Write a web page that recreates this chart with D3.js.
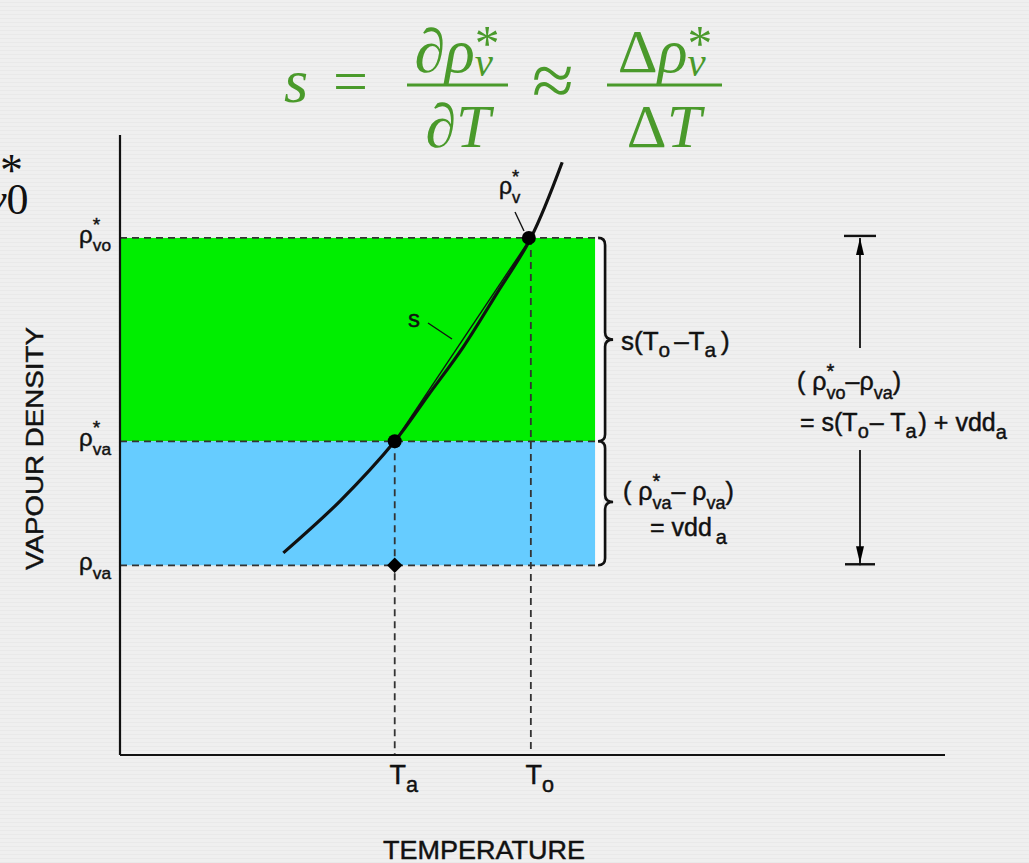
<!DOCTYPE html>
<html>
<head>
<meta charset="utf-8">
<script src="https://cdn.jsdelivr.net/npm/d3@7"></script>
<style>
  body { margin: 0; background: #efefef; }
  svg { display: block; }
  text { font-family: "Liberation Sans", Arial, sans-serif; fill: #111; }
  .ink text, text.ink { stroke: #111; stroke-width: 0.45px; }
</style>
</head>
<body>
<svg id="chart" width="1029" height="863"></svg>
<script>
// values in arbitrary data units (temperature 0-100, vapour density 0-100)
const Ta = 33.3, To = 49.8;
const rhoVa = 30.6, rhoVaSat = 50.6, rhoVoSat = 83.4;
const satCurve = [[19.8, 32.6], [26.7, 41.0], [33.3, 50.6], [37.4, 58.1], [41.6, 65.8], [45.7, 74.5], [49.8, 83.4], [53.6, 95.6]];
const tempTicks = [{ name: 'T', sub: 'a', value: Ta }, { name: 'T', sub: 'o', value: To }];
const densTicks = [
  { sup: '*', sub: 'vo', value: rhoVoSat },
  { sup: '*', sub: 'va', value: rhoVaSat },
  { sup: '', sub: 'va', value: rhoVa }
];
const fillEnd = 57.6, braceAt = 58.8;

const svg = d3.select('#chart');
const x = d3.scaleLinear().domain([0, 100]).range([120, 945]);
const y = d3.scaleLinear().domain([0, 100]).range([755, 135]);

// faint scan lines like the reference photo
const pat = svg.append('defs').append('pattern').attr('id', 'scan')
  .attr('width', 4).attr('height', 4).attr('patternUnits', 'userSpaceOnUse');
pat.append('rect').attr('width', 4).attr('height', 4).attr('fill', '#efefef');
pat.append('rect').attr('y', 2).attr('width', 4).attr('height', 1).attr('fill', '#e9e9e9');
svg.append('rect').attr('width', 1029).attr('height', 863).attr('fill', 'url(#scan)');

// text with stacked super/subscripts, measured piece by piece
function rich(parent, px, py, parts, size, anchor, extra) {
  const g = parent.append('g').attr('class', extra ? null : 'ink');
  let cx = 0, supStart = null;
  parts.forEach(p => {
    const kind = p.kind || 'base';
    const fs = kind === 'base' ? (p.size || size) : size * (p.scale || 0.72);
    const dy = kind === 'sub' ? size * (p.drop || 0.3) : kind === 'sup' ? -size * (p.rise || 0.42) : (p.dy || 0);
    let at = cx;
    if (kind === 'sub' && supStart !== null) at = supStart;
    const t = g.append('text').attr('x', at + (p.dx || 0)).attr('y', dy)
      .attr('font-size', fs).text(p.text);
    if (extra) extra(t, p);
    const w = t.node().getComputedTextLength() + (p.dx || 0);
    if (kind === 'sup') { supStart = cx; cx = cx + w; }
    else if (kind === 'sub' && supStart !== null) { cx = Math.max(cx, at + w); supStart = null; }
    else { cx = at + w; supStart = null; }
  });
  const shift = anchor === 'middle' ? -cx / 2 : anchor === 'end' ? -cx : 0;
  g.attr('transform', `translate(${px + shift},${py})`);
  return g;
}

// coloured bands
svg.append('rect').attr('x', x(0)).attr('y', y(rhoVoSat))
  .attr('width', x(fillEnd) - x(0)).attr('height', y(rhoVaSat) - y(rhoVoSat)).attr('fill', '#00ee00');
svg.append('rect').attr('x', x(0)).attr('y', y(rhoVaSat))
  .attr('width', x(fillEnd) - x(0)).attr('height', y(rhoVa) - y(rhoVaSat)).attr('fill', '#66ccff');
svg.append('rect').attr('x', x(fillEnd)).attr('y', y(rhoVoSat))
  .attr('width', x(braceAt) - x(fillEnd) - 2).attr('height', y(rhoVa) - y(rhoVoSat)).attr('fill', '#fbfbfb');

// dashed guides
const dash = svg.append('g').attr('stroke', '#333').attr('stroke-width', 1.8)
  .attr('stroke-dasharray', '7,5').attr('fill', 'none');
[rhoVoSat, rhoVaSat, rhoVa].forEach(v => {
  dash.append('line').attr('x1', x(0)).attr('x2', x(braceAt) - 6).attr('y1', y(v)).attr('y2', y(v));
});
dash.append('line').attr('x1', x(Ta)).attr('x2', x(Ta)).attr('y1', y(rhoVaSat)).attr('y2', y(0));
dash.append('line').attr('x1', x(To)).attr('x2', x(To)).attr('y1', y(rhoVoSat)).attr('y2', y(0));

// axes
svg.append('line').attr('x1', x(0)).attr('x2', x(0)).attr('y1', y(100)).attr('y2', y(0))
  .attr('stroke', '#111').attr('stroke-width', 2.2);
svg.append('line').attr('x1', x(0)).attr('x2', x(100)).attr('y1', y(0)).attr('y2', y(0))
  .attr('stroke', '#111').attr('stroke-width', 2.2);

// saturation curve and chord
const line = d3.line().x(d => x(d[0])).y(d => y(d[1])).curve(d3.curveCatmullRom);
svg.append('path').datum(satCurve).attr('d', line)
  .attr('fill', 'none').attr('stroke', '#111').attr('stroke-width', 3.2);
svg.append('line').attr('x1', x(Ta)).attr('y1', y(rhoVaSat)).attr('x2', x(To)).attr('y2', y(rhoVoSat))
  .attr('stroke', '#111').attr('stroke-width', 1.4);

// points
svg.append('circle').attr('cx', x(Ta)).attr('cy', y(rhoVaSat)).attr('r', 7).attr('fill', '#000');
svg.append('circle').attr('cx', x(To) - 2).attr('cy', y(rhoVoSat)).attr('r', 7).attr('fill', '#000');
svg.append('path').attr('d', d3.symbol(d3.symbolDiamond2, 150)())
  .attr('transform', `translate(${x(Ta)},${y(rhoVa)})`).attr('fill', '#000');

// curve labels with leaders
rich(svg, 499, 194, [{ text: 'ρ' }, { text: '*', kind: 'sup', scale: 0.8, rise: 0.5 }, { text: 'v', kind: 'sub', drop: 0.38 }], 23, 'start');
svg.append('line').attr('x1', 515).attr('y1', 212).attr('x2', 524).attr('y2', 231)
  .attr('stroke', '#111').attr('stroke-width', 1.4);
svg.append('text').attr('class', 'ink').attr('x', 408).attr('y', 327).attr('font-size', 24).text('s');
svg.append('line').attr('x1', 428).attr('y1', 323).attr('x2', 452).attr('y2', 339)
  .attr('stroke', '#111').attr('stroke-width', 1.4);

// y tick labels
densTicks.forEach(d => {
  const parts = [{ text: 'ρ' }];
  if (d.sup) parts.push({ text: d.sup, kind: 'sup', scale: 0.8, rise: 0.5 });
  parts.push({ text: d.sub, kind: 'sub', drop: 0.35 });
  rich(svg, 111, y(d.value) + 5, parts, 24, 'end');
});
svg.append('text').attr('class', 'ink').attr('transform', `translate(43,${(327 + 570) / 2}) rotate(-90)`)
  .attr('text-anchor', 'middle').attr('font-size', 24).attr('textLength', 243)
  .attr('lengthAdjust', 'spacingAndGlyphs').text('VAPOUR DENSITY');

// x tick labels
tempTicks.forEach(d => {
  rich(svg, x(d.value) + 9, 784, [{ text: d.name }, { text: d.sub, kind: 'sub', drop: 0.28, scale: 0.8 }], 27, 'middle');
});
svg.append('text').attr('class', 'ink').attr('x', 484).attr('y', 859).attr('text-anchor', 'middle')
  .attr('font-size', 26).attr('textLength', 202).attr('lengthAdjust', 'spacingAndGlyphs').text('TEMPERATURE');

// curly braces
function brace(x0, y1, y2, ym) {
  const w = 8, r = 7;
  return `M${x0 - r},${y1} Q${x0},${y1} ${x0},${y1 + r} L${x0},${ym - r} Q${x0},${ym} ${x0 + w},${ym}` +
    ` Q${x0},${ym} ${x0},${ym + r} L${x0},${y2 - r} Q${x0},${y2} ${x0 - r},${y2}`;
}
const bx = x(braceAt);
svg.append('path').attr('d', brace(bx, y(rhoVoSat), y(rhoVaSat), (y(rhoVoSat) + y(rhoVaSat)) / 2))
  .attr('fill', 'none').attr('stroke', '#111').attr('stroke-width', 2.6);
svg.append('path').attr('d', brace(bx, y(rhoVaSat), y(rhoVa), 502))
  .attr('fill', 'none').attr('stroke', '#111').attr('stroke-width', 2.6);

const LS = 25;
rich(svg, 621, 350, [{ text: 's(T' }, { text: 'o', kind: 'sub', drop: 0.28, scale: 0.8 },
  { text: '–T', dx: 4 }, { text: 'a', kind: 'sub', drop: 0.28, scale: 0.8 }, { text: ')', dx: 5 }], 26, 'start');
rich(svg, 623, 500, [{ text: '( ρ' }, { text: '*', kind: 'sup', scale: 0.8, rise: 0.5 }, { text: 'va', kind: 'sub', drop: 0.35 },
  { text: ' – ρ' }, { text: 'va', kind: 'sub', drop: 0.35 }, { text: ' )' }], LS, 'start');
rich(svg, 650, 536, [{ text: '= vdd' }, { text: 'a', kind: 'sub', drop: 0.3, scale: 0.8, dx: 4 }], LS, 'start');

// total difference arrow
const ax = 860;
const arr = svg.append('g').attr('stroke', '#111').attr('stroke-width', 1.8);
arr.append('line').attr('x1', ax - 16).attr('x2', ax + 16).attr('y1', y(rhoVoSat) - 2).attr('y2', y(rhoVoSat) - 2).attr('stroke-width', 2.4);
arr.append('line').attr('x1', ax).attr('x2', ax).attr('y1', y(rhoVoSat)).attr('y2', 348);
arr.append('line').attr('x1', ax - 15).attr('x2', ax + 15).attr('y1', y(rhoVa) - 1).attr('y2', y(rhoVa) - 1).attr('stroke-width', 2.4);
arr.append('line').attr('x1', ax).attr('x2', ax).attr('y1', 450).attr('y2', y(rhoVa));
svg.append('path').attr('d', `M${ax},${y(rhoVoSat)} L${ax - 4},${y(rhoVoSat) + 17} L${ax + 4},${y(rhoVoSat) + 17} Z`).attr('fill', '#000');
svg.append('path').attr('d', `M${ax},${y(rhoVa) - 2} L${ax - 4},${y(rhoVa) - 19} L${ax + 4},${y(rhoVa) - 19} Z`).attr('fill', '#000');

rich(svg, 797, 390, [{ text: '( ρ' }, { text: '*', kind: 'sup', scale: 0.8, rise: 0.5 }, { text: 'vo', kind: 'sub', drop: 0.35 },
  { text: '–ρ' }, { text: 'va', kind: 'sub', drop: 0.35 }, { text: ' )' }], LS, 'start');
rich(svg, 800, 431, [{ text: '= s(T' }, { text: 'o', kind: 'sub', drop: 0.28, scale: 0.8 },
  { text: ' – T', dx: 1 }, { text: 'a', kind: 'sub', drop: 0.28, scale: 0.8 }, { text: ' ) + vdd', dx: 2 },
  { text: 'a', kind: 'sub', drop: 0.3, scale: 0.8 }], LS, 'start');

// green formula at the top
const green = '#4a9a2b';
const serif = (t, p) => t.style('font-family', '"Liberation Serif", "Times New Roman", serif')
  .style('font-style', p.upright ? 'normal' : 'italic').style('fill', green);
const fs = 62;
const starSup = { text: '*', kind: 'sup', upright: true, rise: 0.2, scale: 0.8 };
const vSub = { text: 'v', kind: 'sub', drop: 0.06, scale: 0.66 };
rich(svg, 284, 102, [{ text: 's' }], fs, 'start', serif);
rich(svg, 333, 102, [{ text: '=', upright: true }], fs, 'start', serif);
rich(svg, 457, 72, [{ text: '∂ρ' }, starSup, vSub], fs, 'middle', serif);
svg.append('line').attr('x1', 407).attr('x2', 508).attr('y1', 85).attr('y2', 85).attr('stroke', green).attr('stroke-width', 3);
rich(svg, 458, 147, [{ text: '∂T' }], fs, 'middle', serif);
rich(svg, 532, 106, [{ text: '≈', upright: true, size: 76 }], fs, 'start', serif);
rich(svg, 665, 72, [{ text: 'Δ', upright: true }, { text: 'ρ' }, starSup, vSub], fs, 'middle', serif);
svg.append('line').attr('x1', 607).attr('x2', 722).attr('y1', 85).attr('y2', 85).attr('stroke', green).attr('stroke-width', 3);
rich(svg, 664, 147, [{ text: 'Δ', upright: true }, { text: 'T' }], fs, 'middle', serif);

// clipped remnant of another formula at the left edge
const serifBlack = (t, p) => t.style('font-family', '"Liberation Serif", serif').style('font-style', p.upright ? 'normal' : 'italic');
rich(svg, 0, 186, [{ text: '*', upright: true }], 46, 'start', serifBlack);
rich(svg, -13, 214, [{ text: 'v' }, { text: '0', upright: true }], 44, 'start', serifBlack);
</script>
</body>
</html>
